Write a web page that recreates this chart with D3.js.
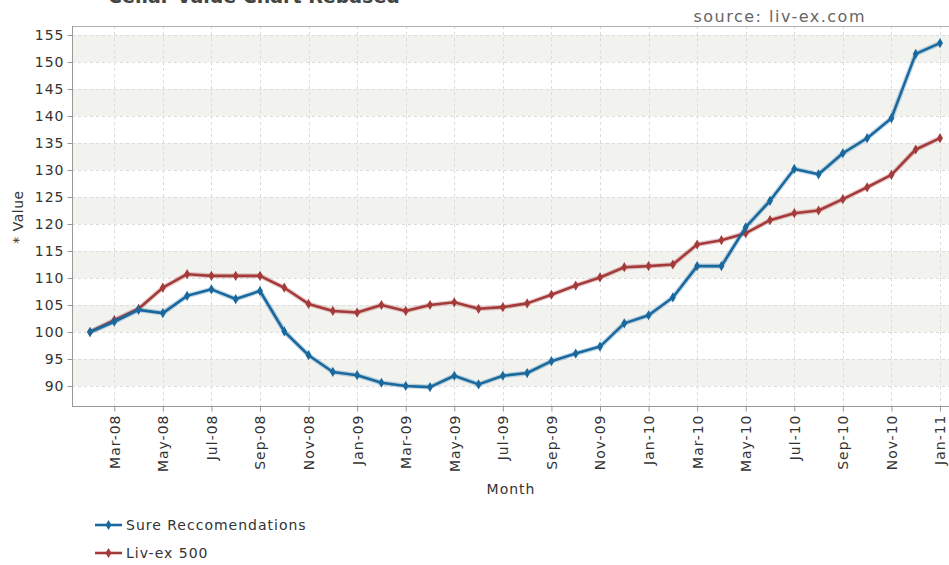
<!DOCTYPE html>
<html><head><meta charset="utf-8">
<script src="https://cdn.jsdelivr.net/npm/d3@7"></script>
<style>
body{margin:0;background:#fff;}
svg{display:block;font-family:"DejaVu Sans",sans-serif;}
</style></head>
<body><svg id="c" width="949" height="565"></svg>
<script>
const months = ["Feb-08","Mar-08","Apr-08","May-08","Jun-08","Jul-08","Aug-08","Sep-08","Oct-08","Nov-08","Dec-08",
"Jan-09","Feb-09","Mar-09","Apr-09","May-09","Jun-09","Jul-09","Aug-09","Sep-09","Oct-09","Nov-09","Dec-09",
"Jan-10","Feb-10","Mar-10","Apr-10","May-10","Jun-10","Jul-10","Aug-10","Sep-10","Oct-10","Nov-10","Dec-10","Jan-11"];
const sureValues = [100,101.9,104.1,103.5,106.7,107.9,106.1,107.6,100.1,95.7,92.6,
92.0,90.6,90.0,89.8,91.9,90.3,91.9,92.4,94.6,96.0,97.3,101.6,
103.1,106.4,112.2,112.2,119.4,124.3,130.2,129.2,133.1,135.9,139.6,151.5,153.5];
const livexValues = [100,102.2,104.3,108.2,110.7,110.4,110.4,110.4,108.2,105.2,103.9,
103.6,105.0,103.9,105.0,105.5,104.3,104.6,105.3,106.9,108.6,110.1,112.0,
112.2,112.5,116.2,117.0,118.3,120.7,122.0,122.5,124.6,126.8,129.1,133.8,135.9];
const seriesNames = ["Sure Reccomendations","Liv-ex 500"];
const seriesColors = ["#19699e","#a53a3a"];
const yTicks = [90,95,100,105,110,115,120,125,130,135,140,145,150,155];
const xTickLabels = ["Mar-08","May-08","Jul-08","Sep-08","Nov-08","Jan-09","Mar-09","May-09","Jul-09","Sep-09","Nov-09",
"Jan-10","Mar-10","May-10","Jul-10","Sep-10","Nov-10","Jan-11"];
const titleText = "Cellar Value Chart Rebased";
const sourceText = "source: liv-ex.com";

const svg = d3.select("#c");
const L = 72, R = 952, T = 26, B = 406;
const x = d3.scalePoint().domain(months).range([90, 940]);
const y = d3.scaleLinear().domain([90, 155]).range([386, 35]);

// clip
svg.append("clipPath").attr("id","clip").append("rect").attr("x",L).attr("y",T).attr("width",R-L).attr("height",B-T);
const plot = svg.append("g").attr("clip-path","url(#clip)");

// bands
for (let i = 0; i < yTicks.length - 1; i += 2) {
  plot.append("rect").attr("x",L).attr("width",R-L)
    .attr("y", y(yTicks[i+1])).attr("height", y(yTicks[i]) - y(yTicks[i+1]))
    .attr("fill","#f2f2ee");
}
// grid
plot.selectAll(".hg").data(yTicks).join("line")
  .attr("x1",L).attr("x2",R).attr("y1",d=>y(d)+0.5).attr("y2",d=>y(d)+0.5)
  .attr("stroke","#dcdcdc").attr("stroke-dasharray","3,3");
plot.selectAll(".vg").data(xTickLabels).join("line")
  .attr("y1",T).attr("y2",B).attr("x1",d=>Math.round(x(d))+0.5).attr("x2",d=>Math.round(x(d))+0.5)
  .attr("stroke","#dcdcdc").attr("stroke-dasharray","3,3");

// series
const allSeries = [sureValues, livexValues];
const line = d3.line().x((d,i)=>x(months[i])).y(d=>y(d));
const diamond = d3.symbol().type(d3.symbolDiamond).size(30);
[1,0].forEach(k => {
  const vals = allSeries[k];
  plot.append("path").datum(vals).attr("d",line).attr("fill","none")
    .attr("stroke",seriesColors[k]).attr("stroke-width",5).attr("stroke-opacity",0.25).attr("stroke-linejoin","round");
  plot.append("path").datum(vals).attr("d",line).attr("fill","none")
    .attr("stroke",seriesColors[k]).attr("stroke-width",2.6).attr("stroke-linejoin","round");
  plot.selectAll(".m"+k).data(vals).join("path")
    .attr("transform",(d,i)=>`translate(${x(months[i])},${y(d)})`)
    .attr("d",diamond).attr("fill",seriesColors[k]);
});

// frame lines
svg.append("line").attr("x1",L).attr("x2",949).attr("y1",T+0.5).attr("y2",T+0.5).attr("stroke","#b0b0b0");
svg.append("line").attr("x1",L+0.5).attr("x2",L+0.5).attr("y1",T).attr("y2",B).attr("stroke","#999");
svg.append("line").attr("x1",L).attr("x2",949).attr("y1",B+0.5).attr("y2",B+0.5).attr("stroke","#999");

// y axis
const yAxis = d3.axisLeft(y).tickValues(yTicks).tickSize(5).tickPadding(3);
const gy = svg.append("g").attr("transform",`translate(${L+0.5},0)`).call(yAxis);
gy.select(".domain").remove();
gy.selectAll(".tick line").attr("stroke","#999");
gy.selectAll(".tick text").attr("font-size","14px").attr("fill","#333").attr("letter-spacing","1px")
  .attr("font-family","DejaVu Sans");

// x axis
const xAxis = d3.axisBottom(x).tickValues(xTickLabels).tickSize(5);
const gx = svg.append("g").attr("transform",`translate(0,${B+0.5})`).call(xAxis);
gx.select(".domain").remove();
gx.selectAll(".tick line").attr("stroke","#999");
gx.selectAll(".tick text").attr("font-size","14px").attr("fill","#333").attr("letter-spacing","1px")
  .attr("font-family","DejaVu Sans")
  .attr("transform","rotate(-90)").attr("text-anchor","end").attr("dy","0.35em").attr("dx","0").attr("x",-8).attr("y",0);

// axis titles
svg.append("text").attr("x",511).attr("y",494).attr("text-anchor","middle").attr("font-size","14px")
  .attr("fill","#333").attr("letter-spacing","1px").text("Month");
svg.append("text").attr("transform","translate(23,217) rotate(-90)").attr("text-anchor","middle")
  .attr("font-size","14px").attr("fill","#333").attr("letter-spacing","0.5px").text("* Value");

// title & source
svg.append("text").attr("x",254).attr("y",3).attr("text-anchor","middle").attr("font-size","19px")
  .attr("font-weight","bold").attr("fill","#444").text(titleText);
svg.append("text").attr("x",866).attr("y",22).attr("text-anchor","end").attr("font-size","16px")
  .attr("fill","#666").attr("letter-spacing","1.5px").text(sourceText);

// legend
seriesNames.forEach((n,k) => {
  const ly = 525 + k*28;
  const g = svg.append("g");
  g.append("line").attr("x1",95).attr("x2",122).attr("y1",ly).attr("y2",ly)
    .attr("stroke",seriesColors[k]).attr("stroke-width",2.6);
  g.append("path").attr("transform",`translate(108.5,${ly})`).attr("d",diamond).attr("fill",seriesColors[k]);
  g.append("text").attr("x",126).attr("y",ly+5).attr("font-size","14px").attr("fill","#333")
    .attr("letter-spacing","1px").text(n);
});
</script></body></html>
